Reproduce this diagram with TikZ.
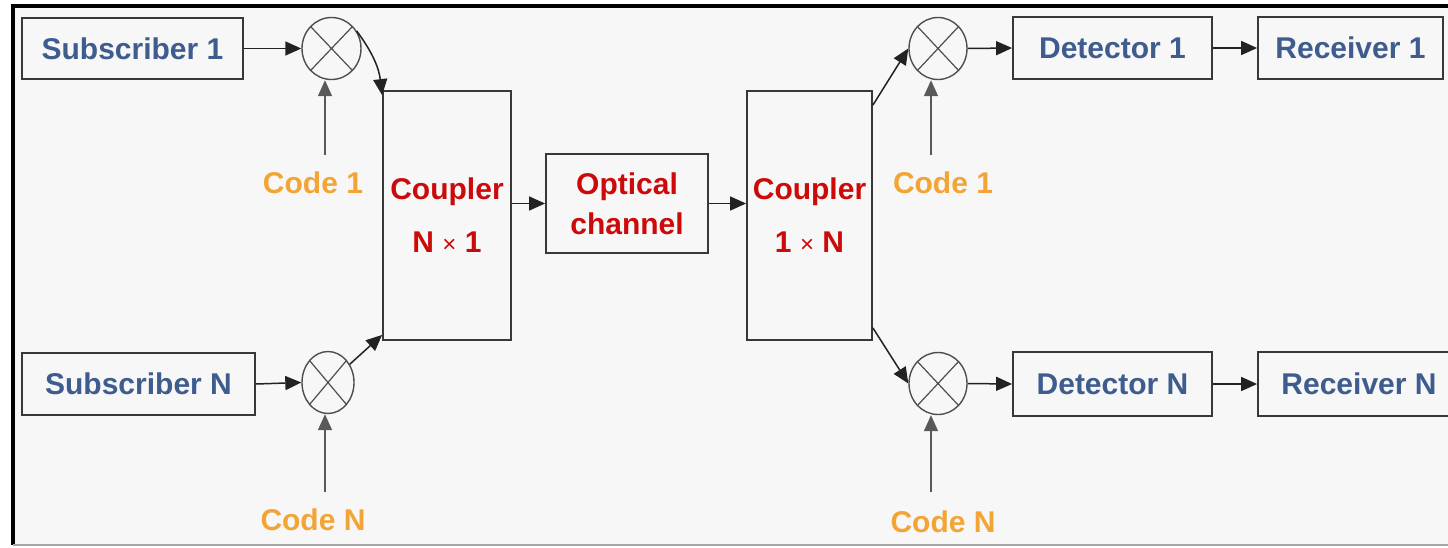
\documentclass[tikz,border=0pt]{standalone}
\usepackage{fontspec}
\setmainfont{Liberation Sans}
\usetikzlibrary{arrows.meta,shapes.geometric}
\definecolor{ink}{HTML}{222222}
\definecolor{paper}{HTML}{F7F7F7}
\definecolor{subcol}{HTML}{3E5C8E}
\definecolor{cplcol}{HTML}{CC0A0A}
\definecolor{codecol}{HTML}{F2A534}
\newcommand{\smalltimes}{{\mdseries\fontsize{24}{40}\selectfont ×}}
\tikzset{
  blk/.style={draw=ink!90,line width=1.8pt,fill=paper,inner sep=0pt},
  mixer/.style={ellipse,draw=ink!80,line width=1.4pt,inner sep=0pt,
    minimum width=#1,minimum height=62pt,
    path picture={\draw[ink!80,line width=1.2pt]
      (path picture bounding box.south west) -- (path picture bounding box.north east)
      (path picture bounding box.north west) -- (path picture bounding box.south east);}},
  mixer/.default=58pt,
  sig/.style={ink,line width=1.5pt,-{Triangle[length=16pt,width=14pt]}},
  codeln/.style={sig,draw=ink!75},
}

\begin{document}
\begin{tikzpicture}[x=1pt,y=-1pt,font=\bfseries\fontsize{30}{40}\selectfont]
\useasboundingbox (0,0) rectangle (1448,547);

% ---------------------------------------------------------------- frame
\fill[white] (0,0) rectangle (1448,547);
\fill[paper] (13,6) rectangle (1448,545);
\draw[black,line width=4pt] (13,545) -- (13,6) -- (1448,6);
\draw[black!35,line width=2pt] (13,545) -- (1448,545);

% ---------------------------------------------------------------- transmit side
\node[blk,text=subcol,minimum width=221pt,minimum height=61pt] (sub1) at (132.5,48.5) {Subscriber 1};
\node[blk,text=subcol,minimum width=233pt,minimum height=62pt] (subN) at (138.5,384) {Subscriber N};
\node[mixer=59pt] (mix1) at (331.5,48.5) {};
\node[mixer=52pt] (mixN) at (328,382.5) {};
\node[text=codecol] (code1) at (313,183) {Code 1};
\node[text=codecol] (codeN) at (313,520) {Code N};
\coordinate (c1) at (325,155);
\coordinate (cN) at (325,492);

% ---------------------------------------------------------------- couplers and channel
\node[blk,text=cplcol,align=center,minimum width=128pt,minimum height=249pt] (cplL) at (447,215.5) {Coupler\\[13pt]N \smalltimes{} 1};
\node[blk,text=cplcol,align=center,minimum width=162pt,minimum height=99pt] (chan) at (627,203.5) {Optical\\channel};
\node[blk,text=cplcol,align=center,minimum width=125pt,minimum height=249pt] (cplR) at (809.5,215.5) {Coupler\\[13pt]1 \smalltimes{} N};

% ---------------------------------------------------------------- receive side
\node[mixer] (mixR1) at (938,48.5) {};
\node[mixer] (mixRN) at (938,383.5) {};
\node[text=codecol] (codeR1) at (943,183) {Code 1};
\node[text=codecol] (codeRN) at (943,522) {Code N};
\coordinate (cR1) at (931,155);
\coordinate (cRN) at (931,492);
\node[blk,text=subcol,minimum width=199pt,minimum height=62pt] (det1) at (1112.5,48) {Detector 1};
\node[blk,text=subcol,minimum width=199pt,minimum height=64pt] (detN) at (1112.5,384) {Detector N};
\node[blk,text=subcol,minimum width=185pt,minimum height=62pt] (rec1) at (1350.5,48) {Receiver 1};
\node[blk,text=subcol,minimum width=202pt,minimum height=64pt] (recN) at (1359,384) {Receiver N};

% ---------------------------------------------------------------- connectors
\draw[sig] (sub1.east) -- (mix1.west);
\draw[sig] (subN.east) -- (mixN.west);
\draw[codeln] (c1) -- (c1 |- mix1.south);
\draw[codeln] (cN) -- (cN |- mixN.south);
\draw[sig] (mix1.35) to[bend left=15] ([yshift=-5pt]cplL.north west);
\draw[sig] (mixN.40) -- ([yshift=6pt]cplL.south west);
\draw[sig] (cplL.east |- chan.west) -- (chan.west);
\draw[sig] (chan.east) -- (chan.east -| cplR.west);
\draw[sig] ([yshift=-15pt]cplR.north east) -- (mixR1.west);
\draw[sig] ([yshift=13pt]cplR.south east) -- (mixRN.west);
\draw[codeln] (cR1) -- (cR1 |- mixR1.south);
\draw[codeln] (cRN) -- (cRN |- mixRN.south);
\draw[sig] (mixR1.east) -- (det1.west);
\draw[sig] (mixRN.east) -- (detN.west);
\draw[sig] (det1.east) -- (rec1.west);
\draw[sig] (detN.east) -- (recN.west);

\end{tikzpicture}
\end{document}
